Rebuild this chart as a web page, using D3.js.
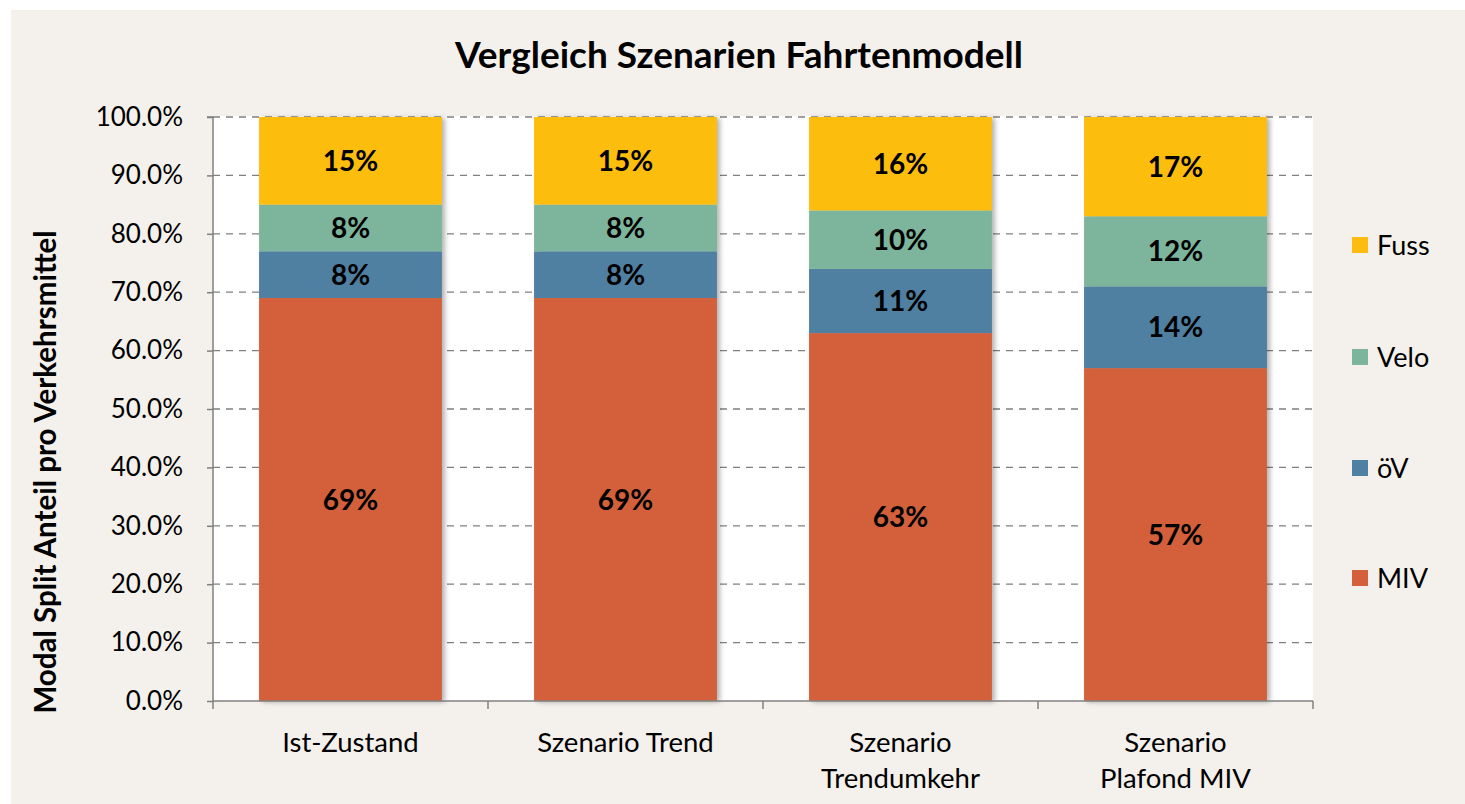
<!DOCTYPE html>
<html>
<head>
<meta charset="utf-8">
<script src="https://cdn.jsdelivr.net/npm/d3@7"></script>
<style>
  html, body { margin: 0; padding: 0; background: #ffffff; }
  svg { display: block; }
  text { font-family: Lato, "Open Sans", "Noto Sans", sans-serif; fill: #000; }
</style>
</head>
<body>
<svg id="chart" width="1465" height="804"></svg>
<script>
// Scenario categories (x axis), one line per array entry
const categories = ["Ist-Zustand", "Szenario Trend", "Szenario Trendumkehr", "Szenario Plafond MIV"];
const categoryLines = [["Ist-Zustand"], ["Szenario Trend"], ["Szenario", "Trendumkehr"], ["Szenario", "Plafond MIV"]];

// Modal split shares (percent), stacked bottom to top
const seriesNames = ["MIV", "öV", "Velo", "Fuss"];
const miv  = [69, 69, 63, 57];
const oev  = [8, 8, 11, 14];
const velo = [8, 8, 10, 12];
const fuss = [15, 15, 16, 17];

const yTicks = [0, 10, 20, 30, 40, 50, 60, 70, 80, 90, 100];

const colors = { "MIV": "#d3603a", "öV": "#4f7fa1", "Velo": "#7db59c", "Fuss": "#fdbd10" };

const rows = categories.map((c, i) => ({
  category: c, "MIV": miv[i], "öV": oev[i], "Velo": velo[i], "Fuss": fuss[i]
}));

const svg = d3.select("#chart");
const W = 1465, H = 804;

// Chart background
svg.append("rect").attr("x", 11).attr("y", 10).attr("width", W - 11).attr("height", H - 10)
  .attr("fill", "#f4f1ec");

const plot = { left: 213, right: 1313, top: 117, bottom: 701 };

svg.append("rect")
  .attr("x", plot.left).attr("y", plot.top - 1)
  .attr("width", plot.right - plot.left).attr("height", plot.bottom - plot.top + 1)
  .attr("fill", "#ffffff");

const defs = svg.append("defs");
const shadow = defs.append("filter").attr("id", "barShadow")
  .attr("x", "-5%").attr("y", "-5%").attr("width", "115%").attr("height", "110%");
shadow.append("feDropShadow").attr("dx", 3).attr("dy", 1).attr("stdDeviation", 2.5)
  .attr("flood-color", "#000").attr("flood-opacity", 0.3);

const x = d3.scaleBand().domain(categories).range([plot.left, plot.right]).paddingInner(0.335).paddingOuter(0.1675);
const y = d3.scaleLinear().domain([0, 100]).range([plot.bottom, plot.top]);

// Dashed gridlines
svg.append("g").selectAll("line").data(yTicks.filter(t => t > 0)).join("line")
  .attr("x1", plot.left).attr("x2", plot.right)
  .attr("y1", d => y(d)).attr("y2", d => y(d))
  .attr("stroke", "#808080").attr("stroke-width", 1.3).attr("stroke-dasharray", "7,6");

// Stacked bars
const stack = d3.stack().keys(seriesNames)(rows);
const barGroups = svg.append("g").attr("filter", "url(#barShadow)");
stack.forEach(layer => {
  barGroups.append("g").attr("fill", colors[layer.key])
    .selectAll("rect").data(layer).join("rect")
    .attr("x", d => x(d.data.category))
    .attr("width", x.bandwidth())
    .attr("y", d => y(d[1]))
    .attr("height", d => y(d[0]) - y(d[1]));
});

// Value labels
const labels = svg.append("g");
stack.forEach(layer => {
  labels.selectAll(null).data(layer).join("text")
    .attr("x", d => x(d.data.category) + x.bandwidth() / 2)
    .attr("y", d => (y(d[0]) + y(d[1])) / 2)
    .attr("dy", "0.36em")
    .attr("text-anchor", "middle")
    .attr("font-size", 28).attr("font-weight", 700)
    .text(d => d.data[layer.key] + "%");
});

// Y axis
const yAxis = d3.axisLeft(y).tickValues(yTicks).tickFormat(d => d.toFixed(1) + "%").tickSize(6).tickPadding(24);
const yg = svg.append("g").attr("transform", `translate(${plot.left},0)`).call(yAxis);
yg.select(".domain").attr("stroke", "#808080").attr("stroke-width", 1.5).attr("d", `M-6,${plot.top}H0V${plot.bottom}`);
yg.selectAll(".tick line").attr("stroke", "#808080").attr("stroke-width", 1.5);
yg.selectAll(".tick text").attr("font-size", 26).attr("font-family", "Lato, sans-serif").attr("fill", "#000");

// X axis with ticks at category boundaries
const xg = svg.append("g").attr("transform", `translate(0,${plot.bottom})`);
xg.append("line").attr("x1", plot.left).attr("x2", plot.right).attr("y1", 0).attr("y2", 0)
  .attr("stroke", "#808080").attr("stroke-width", 1.5);
const step = x.step();
const bounds = d3.range(categories.length + 1).map(i => plot.left + i * step);
xg.selectAll("line.b").data(bounds).join("line").attr("class", "b")
  .attr("x1", d => d).attr("x2", d => d).attr("y1", 0).attr("y2", 8)
  .attr("stroke", "#808080").attr("stroke-width", 1.5);

categoryLines.forEach((lines, i) => {
  const cx = x(categories[i]) + x.bandwidth() / 2;
  const t = svg.append("text").attr("text-anchor", "middle").attr("font-size", 27.5);
  lines.forEach((ln, j) => {
    t.append("tspan").attr("x", cx).attr("y", 752 + j * 36).text(ln);
  });
});

// Title
svg.append("text").attr("x", 739).attr("y", 68).attr("text-anchor", "middle")
  .attr("font-size", 37).attr("font-weight", 700).text("Vergleich Szenarien Fahrtenmodell");

// Y axis title
svg.append("text").attr("transform", "translate(56,472) rotate(-90)")
  .attr("text-anchor", "middle").attr("font-size", 29.5).attr("font-weight", 700)
  .text("Modal Split Anteil pro Verkehrsmittel");

// Legend (top to bottom: Fuss, Velo, öV, MIV)
const legendOrder = seriesNames.slice().reverse();
const legendY = [245, 357, 468, 578];
const lg = svg.append("g");
legendOrder.forEach((name, i) => {
  lg.append("rect").attr("x", 1352).attr("y", legendY[i] - 8).attr("width", 16).attr("height", 16)
    .attr("fill", colors[name]);
  lg.append("text").attr("x", 1377).attr("y", legendY[i]).attr("dy", "0.36em")
    .attr("font-size", 27).text(name);
});
</script>
</body>
</html>
